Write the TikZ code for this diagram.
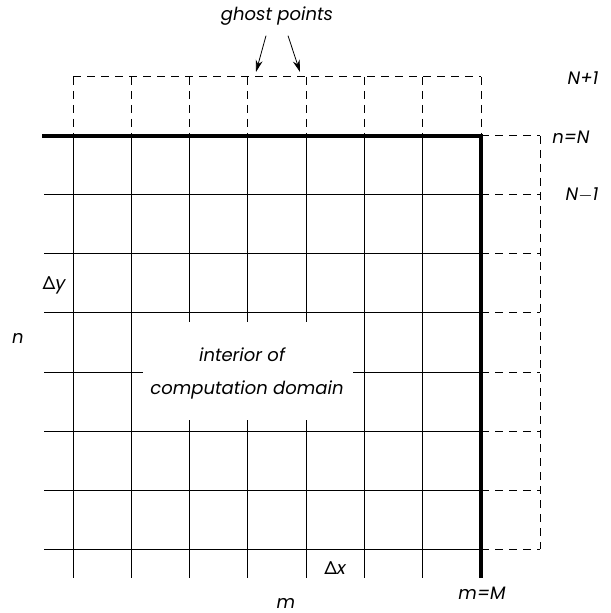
\documentclass[tikz,border=0pt]{standalone}
\usepackage{fontspec}
\setmainfont{Poppins}
\newfontfamily\heros{TeX Gyre Heros}
\usetikzlibrary{arrows.meta}

\begin{document}
\begin{tikzpicture}[x=0.5pt,y=-0.5pt,
    gridline/.style={line width=0.5pt},
    boundary/.style={line width=2.2pt},
    ghostline/.style={line width=0.5pt, dash pattern=on 4pt off 3pt},
    lbl/.style={font=\itshape\fontsize{9}{11}\selectfont, inner sep=1pt}]
  \useasboundingbox (0,0) rectangle (610,613);

  \draw[ghostline] (73,77) -- (481,77);
  \foreach \k in {0,...,7}
    \draw[ghostline] ({73+58.3*\k},77) -- ({73+58.3*\k},136);
  \foreach \j in {0,...,7}
    \draw[ghostline] (481,{136+59*\j}) -- (540,{136+59*\j});
  \draw[ghostline] (540,136) -- (540,549);

  \foreach \j in {1,...,7}
    \draw[gridline] (44,{136+59*\j}) -- (481,{136+59*\j});
  \foreach \k in {0,...,6}
    \draw[gridline] ({73+58.3*\k},136) -- ({73+58.3*\k},578);

  \draw[boundary] (42,136) -- (481,136) -- (481,578);

  \fill[white] (143,322) rectangle (353,420);
  \node[lbl] (interior) at (242,355) {interior of};
  \node[lbl] (domain) at (247,390) {computation domain};

  \node[lbl] (ghost) at (277,16) {ghost points};
  \coordinate (G1) at (256,72);
  \coordinate (G2) at (300,72);
  \draw[-{Stealth[length=6pt,width=3.5pt]}] ([xshift=-5.5pt,yshift=-4pt]ghost.south) -- (G1);
  \draw[-{Stealth[length=6pt,width=3.5pt]}] ([xshift=5.5pt,yshift=-4pt]ghost.south) -- (G2);

  \node[lbl] (Np) at (583,78) {N+1};
  \node[lbl] (nN) at (571,137) {n=N};
  \node[lbl] (Nm) at (582,195) {N$-$1};

  \node[lbl] (dy) at (54,285) {{\heros\upshape Δ}y};
  \node[lbl] (n) at (18,338) {n};

  \node[lbl] (dx) at (335,568) {{\heros\upshape Δ}x};
  \node[lbl] (mM) at (482,593) {m=M};
  \node[lbl] (m) at (286,603) {m};
\end{tikzpicture}
\end{document}
